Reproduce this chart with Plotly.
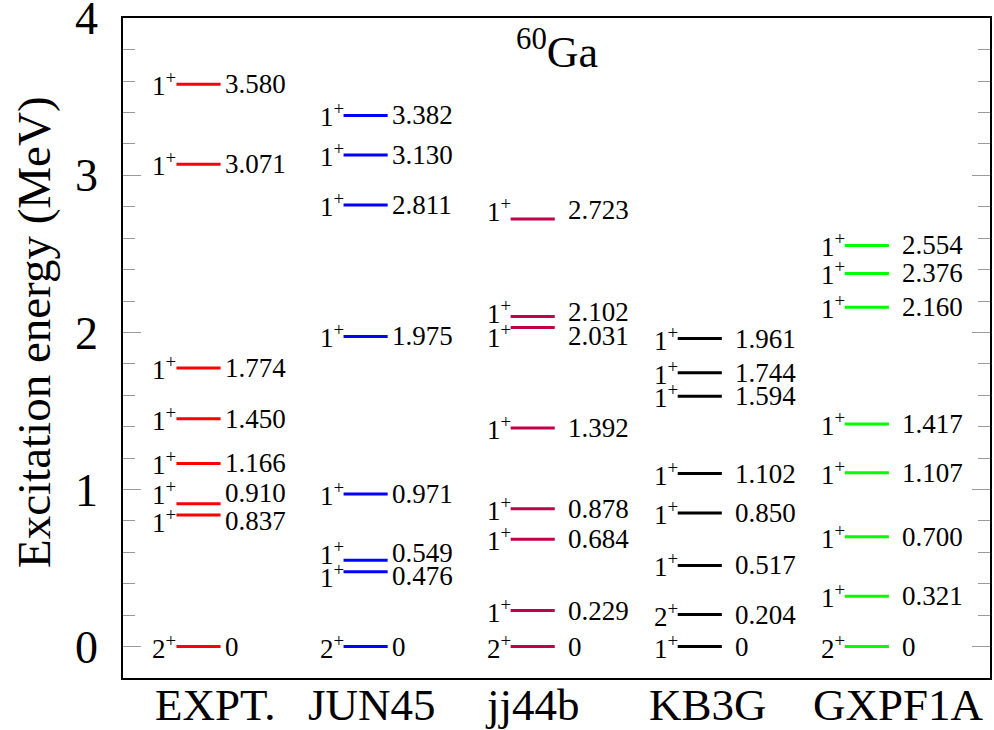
import plotly.graph_objects as go

# ---------------- data ----------------
models = ["EXPT.", "JUN45", "jj44b", "KB3G", "GXPF1A"]
colors = ["#ff0000", "#0000ff", "#c0004a", "#000000", "#00ff00"]

expt_e = [0, 0.837, 0.910, 1.166, 1.450, 1.774, 3.071, 3.580]
expt_j = ["2", "1", "1", "1", "1", "1", "1", "1"]
expt_lab_y = [0, 0.80, 0.975, 1.166, 1.450, 1.774, 3.071, 3.580]

jun45_e = [0, 0.476, 0.549, 0.971, 1.975, 2.811, 3.130, 3.382]
jun45_j = ["2", "1", "1", "1", "1", "1", "1", "1"]
jun45_lab_y = [0, 0.45, 0.595, 0.971, 1.975, 2.811, 3.130, 3.382]

jj44b_e = [0, 0.229, 0.684, 0.878, 1.392, 2.031, 2.102, 2.723]
jj44b_j = ["2", "1", "1", "1", "1", "1", "1", "1"]
jj44b_lab_y = [0, 0.229, 0.684, 0.878, 1.392, 1.975, 2.13, 2.777]

kb3g_e = [0, 0.204, 0.517, 0.850, 1.102, 1.594, 1.744, 1.961]
kb3g_j = ["1", "2", "1", "1", "1", "1", "1", "1"]
kb3g_lab_y = [0, 0.204, 0.517, 0.850, 1.102, 1.594, 1.744, 1.961]

gxpf1a_e = [0, 0.321, 0.700, 1.107, 1.417, 2.160, 2.376, 2.554]
gxpf1a_j = ["2", "1", "1", "1", "1", "1", "1", "1"]
gxpf1a_lab_y = [0, 0.321, 0.700, 1.107, 1.417, 2.160, 2.376, 2.554]

energies = [expt_e, jun45_e, jj44b_e, kb3g_e, gxpf1a_e]
spins = [expt_j, jun45_j, jj44b_j, kb3g_j, gxpf1a_j]
label_ys = [expt_lab_y, jun45_lab_y, jj44b_lab_y, kb3g_lab_y, gxpf1a_lab_y]

category_pos = [0.10, 1.04, 2.0, 3.05, 4.19]
y_ticks = [0, 1, 2, 3, 4]

# ---------------- styling ----------------
FONT = "Liberation Serif"
HALF = 0.132            # half width of a level line (x units)
gap_right = [4, 4, 13, 13, 13]

fig = go.Figure()
annotations = []
for i, (name, col) in enumerate(zip(models, colors)):
    xs, ys = [], []
    for e in energies[i]:
        xs += [i - HALF, i + HALF, None]
        ys += [e, e, None]
    fig.add_trace(go.Scatter(x=xs, y=ys, mode="lines",
                             line=dict(color=col, width=3),
                             name=name, showlegend=False, hoverinfo="skip"))
    for e, j, ly in zip(energies[i], spins[i], label_ys[i]):
        txt = "0" if e == 0 else f"{e:.3f}"
        annotations.append(dict(x=i + HALF, y=ly, xref="x", yref="y",
                                text=txt, showarrow=False, xanchor="left",
                                yanchor="middle", xshift=gap_right[i] - 2,
                                font=dict(family=FONT, size=27, color="black")))
        annotations.append(dict(x=i - HALF, y=ly, xref="x", yref="y",
                                text=f"{j}<sup>+</sup>", showarrow=False,
                                xanchor="right", yanchor="middle", xshift=2,
                                font=dict(family=FONT, size=27, color="black")))

# category labels below the axis
for name, xp in zip(models, category_pos):
    annotations.append(dict(x=xp, y=0, xref="x", yref="paper", text=name,
                            showarrow=False, xanchor="center", yanchor="middle",
                            yshift=-27,
                            font=dict(family=FONT, size=45, color="black")))

annotations.append(dict(x=0.5, y=0.952, xref="paper", yref="paper",
                        text="<sup>60</sup>Ga", showarrow=False,
                        xanchor="center", yanchor="middle",
                        font=dict(family=FONT, size=44, color="black")))
annotations.append(dict(x=-0.102, y=2.0, xref="paper", yref="y",
                        text="Excitation energy (MeV)", showarrow=False,
                        textangle=-90, xanchor="center", yanchor="middle",
                        font=dict(family=FONT, size=47, color="black")))

fig.update_layout(
    width=994, height=730,
    margin=dict(l=123, r=4, t=18, b=52, autoexpand=False),
    plot_bgcolor="white", paper_bgcolor="white",
    annotations=annotations,
    xaxis=dict(range=[-0.452, 4.737], showticklabels=False,
               ticks="", showgrid=False, zeroline=False, automargin=False,
               showline=True, linecolor="black", linewidth=1.5, mirror=True),
    yaxis=dict(range=[-0.2, 4.002], tickmode="array", tickvals=y_ticks,
               ticks="inside", ticklen=18, tickcolor="#9a9a9a", tickwidth=1,
               minor=dict(ticks="inside", ticklen=12, dtick=0.2,
                          tickcolor="#9a9a9a", tickwidth=1, showgrid=False),
               showgrid=False, zeroline=False, automargin=False,
               ticklabeloverflow="allow",
               showline=True, linecolor="black", linewidth=1.5, mirror="ticks",
               ticklabelstandoff=14,
               tickfont=dict(family=FONT, size=46, color="black")),
)

fig.write_html("out.html", config={"displayModeBar": False},
               post_script="document.body.style.margin='0';document.body.style.padding='0';")
